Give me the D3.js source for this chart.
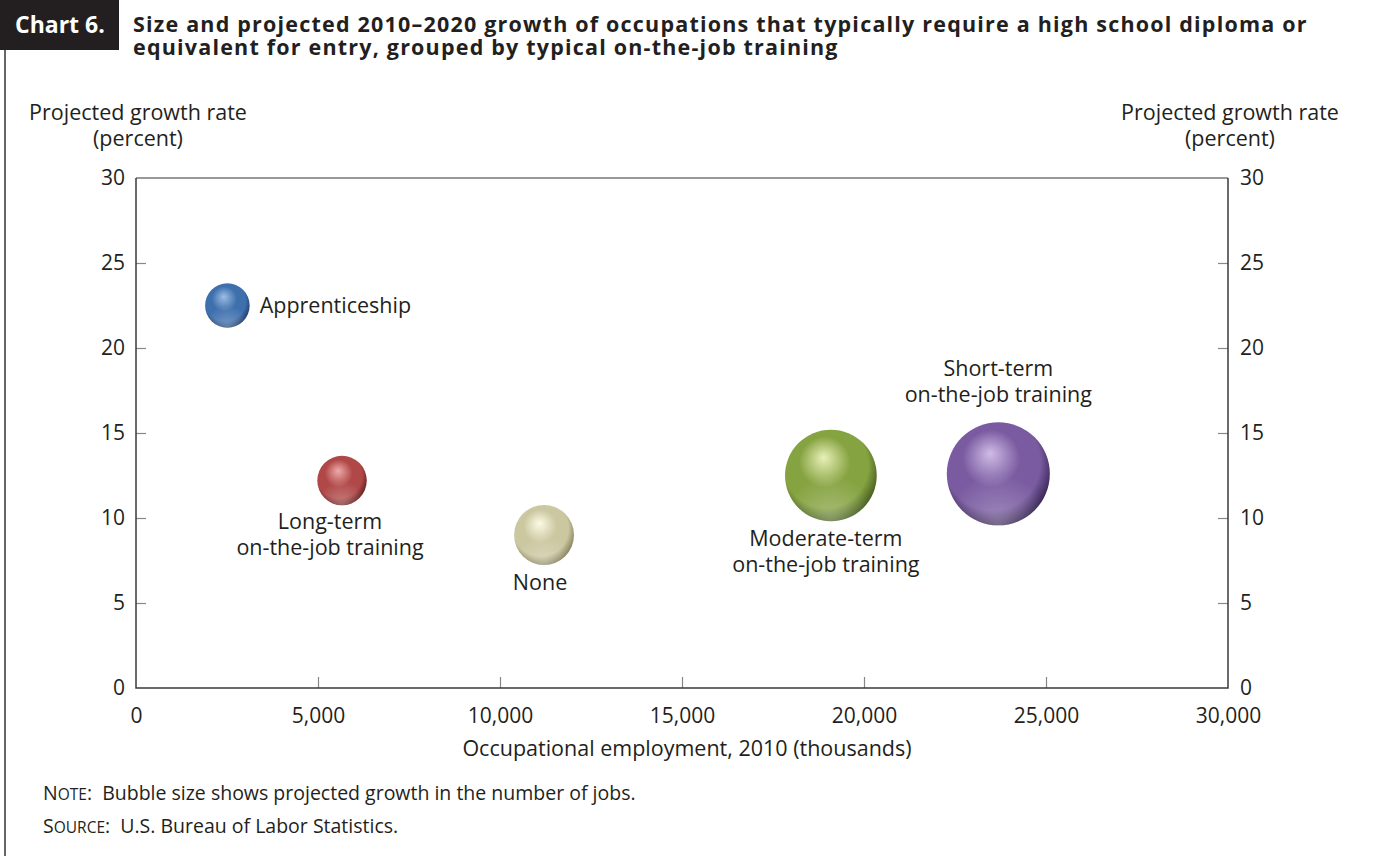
<!DOCTYPE html>
<html>
<head>
<meta charset="utf-8">
<script src="https://cdn.jsdelivr.net/npm/d3@7"></script>
<style>
  body { margin: 0; background: #fff; }
  text { font-family: "Open Sans", "Noto Sans", sans-serif; fill: #231f20; }
</style>
</head>
<body>
<div id="chart"></div>
<script>
// values
var categories = [
    "Apprenticeship",
    "Long-term on-the-job training",
    "None",
    "Moderate-term on-the-job training",
    "Short-term on-the-job training"
];
var employment = [2510, 5660, 11210, 19090, 23690];   // thousands, 2010
var growthRate = [22.5, 12.2, 9.0, 12.5, 12.6];       // percent
var jobGrowth = [560, 690, 1010, 2370, 2990];         // thousands (bubble size)
var labelLines = [
    ["Apprenticeship"],
    ["Long-term", "on-the-job training"],
    ["None"],
    ["Moderate-term", "on-the-job training"],
    ["Short-term", "on-the-job training"]
];
var xTicks = [0, 5000, 10000, 15000, 20000, 25000, 30000];
var yTicks = [0, 5, 10, 15, 20, 25, 30];

// shading colours for each sphere: highlight, body, shadow
var sphereColors = [
    ["#9dbde3", "#3f70ae", "#1b335e"],
    ["#eeaaaa", "#b04848", "#561717"],
    ["#fcfae6", "#cbc7a0", "#77734f"],
    ["#e8f0b8", "#86a341", "#384e18"],
    ["#d0bce6", "#7a5ba1", "#2a1b44"]
];
// where each label sits: side of bubble + small nudges
var labelPlace = [
    {side: "right", dx: 10, dy: 7},
    {side: "below", dx: -12, dy: 24},
    {side: "below", dx: -4, dy: 25},
    {side: "below", dx: -5, dy: 25},
    {side: "above", dx: 0, dy: -20}
];

var width = 1373, height = 856;
var margin = {left: 136, right: 145, top: 178, bottom: 168};
var fs = "21.5px";

var svg = d3.select("#chart").append("svg")
    .attr("width", width)
    .attr("height", height);

var x = d3.scaleLinear().domain([0, 30000]).range([margin.left, width - margin.right]);
var y = d3.scaleLinear().domain([0, 30]).range([height - margin.bottom, margin.top]);
var r = d3.scaleSqrt().domain([0, 3000]).range([0, 51.6]);

// frame + title block
svg.append("line")
    .attr("x1", 5).attr("x2", 5).attr("y1", 50).attr("y2", height)
    .style("stroke", "#333").style("stroke-width", 1.5);
svg.append("rect")
    .attr("x", 0).attr("y", 0).attr("width", 119).attr("height", 50)
    .style("fill", "#231f20");
svg.append("text")
    .attr("x", 15).attr("y", 33)
    .style("font-size", "23px").style("font-weight", "bold").style("fill", "#fff")
    .text("Chart 6.");
var title = svg.append("text")
    .style("font-size", "21.5px").style("font-weight", "bold")
    .style("letter-spacing", "1.2px");
title.append("tspan").attr("x", 133).attr("y", 32)
    .text("Size and projected 2010\u20132020 growth of occupations that typically require a high school diploma or");
title.append("tspan").attr("x", 133).attr("y", 55)
    .text("equivalent for entry, grouped by typical on-the-job training");

// axes
var plot = svg.append("g");
var axisColor = "#3a3a3a";

function styleAxis(g, ends){
    g.select(".domain").remove();
    g.selectAll(".tick line").style("stroke", "#888").style("stroke-width", 1.2)
        .filter(function(d){ return ends.indexOf(d) >= 0; }).remove();
    g.selectAll(".tick text").style("font-size", "21px").style("fill", "#231f20")
        .style("font-family", null);
}

plot.append("g")
    .attr("transform", "translate(0," + y(0) + ")")
    .call(d3.axisBottom(x).tickValues(xTicks).tickSize(-11).tickFormat(d3.format(",")).tickPadding(20))
    .call(styleAxis, [0, 30000]);

plot.append("g")
    .attr("transform", "translate(" + x(0) + ",0)")
    .call(d3.axisLeft(y).tickValues(yTicks).tickSize(-10).tickPadding(11))
    .call(styleAxis, [0, 30]);

plot.append("g")
    .attr("transform", "translate(" + x(30000) + ",0)")
    .call(d3.axisRight(y).tickValues(yTicks).tickSize(-10).tickPadding(12))
    .call(styleAxis, [0, 30]);

// plot box: top is lighter grey, the rest darker
plot.append("line")
    .attr("x1", x(0)).attr("x2", x(30000)).attr("y1", y(30)).attr("y2", y(30))
    .style("stroke", "#777").style("stroke-width", 1.5);
plot.append("path")
    .attr("d", "M" + x(0) + "," + y(30) + "V" + y(0) + "H" + x(30000) + "V" + y(30))
    .style("fill", "none").style("stroke", axisColor).style("stroke-width", 1.5);

// axis titles
[138, 1230].forEach(function(cx){
    svg.append("text").attr("x", cx).attr("y", 120).attr("text-anchor", "middle")
        .style("font-size", fs).text("Projected growth rate");
    svg.append("text").attr("x", cx).attr("y", 146).attr("text-anchor", "middle")
        .style("font-size", fs).text("(percent)");
});
svg.append("text")
    .attr("x", 687).attr("y", 756).attr("text-anchor", "middle")
    .style("font-size", fs)
    .text("Occupational employment, 2010 (thousands)");

// sphere gradients
var defs = svg.append("defs");
sphereColors.forEach(function(c, i){
    var grad = defs.append("radialGradient")
        .attr("id", "sphere_" + i)
        .attr("cx", "0.45").attr("cy", "0.42").attr("r", "0.62")
        .attr("fx", "0.42").attr("fy", "0.3");
    grad.append("stop").attr("offset", "0").attr("stop-color", c[0]);
    grad.append("stop").attr("offset", "0.45").attr("stop-color", c[1]);
    grad.append("stop").attr("offset", "0.75").attr("stop-color", c[1]);
    grad.append("stop").attr("offset", "1").attr("stop-color", c[2]);
});
var rim = defs.append("radialGradient")
    .attr("id", "rim").attr("cx", "0.5").attr("cy", "1.0").attr("r", "0.5");
rim.append("stop").attr("offset", "0").attr("stop-color", "#fff").attr("stop-opacity", 0.3);
rim.append("stop").attr("offset", "1").attr("stop-color", "#fff").attr("stop-opacity", 0);

var bubbles = plot.selectAll(".bubble")
    .data(categories)
    .enter()
    .append("g")
    .attr("class", "bubble");

bubbles.append("circle")
    .attr("cx", function(d, i){ return x(employment[i]); })
    .attr("cy", function(d, i){ return y(growthRate[i]); })
    .attr("r", function(d, i){ return r(jobGrowth[i]); })
    .style("fill", function(d, i){ return "url(#sphere_" + i + ")"; });

bubbles.append("circle")
    .attr("cx", function(d, i){ return x(employment[i]); })
    .attr("cy", function(d, i){ return y(growthRate[i]); })
    .attr("r", function(d, i){ return r(jobGrowth[i]); })
    .style("fill", "url(#rim)");

// bubble labels
bubbles.each(function(d, i){
    var cx = x(employment[i]), cy = y(growthRate[i]), rad = r(jobGrowth[i]);
    var p = labelPlace[i];
    var lines = labelLines[i];
    var t = d3.select(this).append("text").style("font-size", fs);
    lines.forEach(function(line, j){
        var tx, ty;
        if(p.side == "right"){
            tx = cx + rad + p.dx; ty = cy + p.dy;
            t.attr("text-anchor", "start");
        } else if(p.side == "below"){
            tx = cx + p.dx; ty = cy + rad + p.dy + j*26;
            t.attr("text-anchor", "middle");
        } else {
            tx = cx + p.dx; ty = cy - rad + p.dy - (lines.length - 1 - j)*26;
            t.attr("text-anchor", "middle");
        }
        t.append("tspan").attr("x", tx).attr("y", ty).text(line);
    });
});

// notes with small caps lead words
function smallCaps(yPos, first, rest, body){
    var t = svg.append("text").attr("x", 43).attr("y", yPos).style("font-size", "19.5px");
    t.append("tspan").text(first);
    t.append("tspan").style("font-size", "15.5px").text(rest);
    t.append("tspan").attr("xml:space", "preserve").text(":\u00a0 " + body);
}
smallCaps(800, "N", "OTE", "Bubble size shows projected growth in the number of jobs.");
smallCaps(833, "S", "OURCE", "U.S. Bureau of Labor Statistics.");
</script>
</body>
</html>
